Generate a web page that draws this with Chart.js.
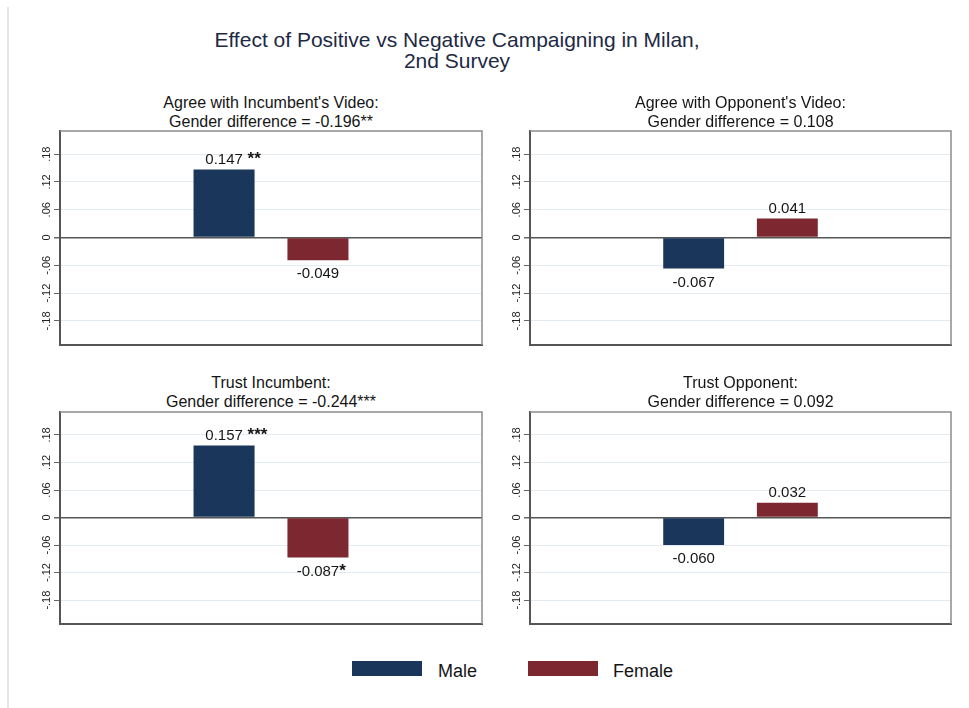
<!DOCTYPE html>
<html>
<head>
<meta charset="utf-8">
<script src="https://cdn.jsdelivr.net/npm/chart.js@4.4.1/dist/chart.umd.min.js"></script>
<style>
  body { margin: 0; background: #fff; font-family: "Liberation Sans", Arial, Helvetica, sans-serif; }
  #page { position: relative; width: 969px; height: 708px; overflow: hidden; }
  #frame { position: absolute; left: 7px; top: 7px; height: 701px; border-left: 2px solid #e6e6e6; }
  #mainTitle { position: absolute; left: 0; top: 29px; width: 914px; text-align: center;
               font-size: 21px; line-height: 21px; color: #1e2944; }
  .ptitle { position: absolute; text-align: center; font-size: 16px; line-height: 18.5px; color: #151515; }
  canvas { position: absolute; }
  .lbox { position: absolute; width: 70px; height: 15px; top: 661px; }
  .ltext { position: absolute; top: 661px; font-size: 18px; line-height: 20px; color: #151515; }
</style>
</head>
<body>
<div id="page">
  <div id="frame"></div>
  <div id="mainTitle">Effect of Positive vs Negative Campaigning in Milan,<br>2nd Survey</div>
</div>
<script>
// valores
const seriesNames = ['Male', 'Female'];
const panelTitles = [
    ["Agree with Incumbent's Video:", "Gender difference = -0.196**"],
    ["Agree with Opponent's Video:", "Gender difference = 0.108"],
    ["Trust Incumbent:", "Gender difference = -0.244***"],
    ["Trust Opponent:", "Gender difference = 0.092"]
];
const maleValues = [0.147, -0.067, 0.157, -0.060];
const femaleValues = [-0.049, 0.041, -0.087, 0.032];
const maleStars = [' **', '', ' ***', ''];
const femaleStars = ['', '', '*', ''];
const tickValues = [-0.18, -0.12, -0.06, 0, 0.06, 0.12, 0.18];

const colors = ['#1a365b', '#7d2831'];
// areas de dibujo: left, top, right, bottom
const areas = [
    [60, 131, 482, 345],
    [530, 131, 951, 345],
    [60, 412, 482, 624],
    [530, 412, 951, 624]
];
const titleTops = [94, 94, 374, 374];
const font = '"Liberation Sans", Arial, Helvetica, sans-serif';

const page = document.getElementById('page');

const barLabels = {
    id: 'barLabels',
    afterDatasetsDraw(chart) {
        const ctx = chart.ctx;
        const idx = chart.options.plugins.barLabels.panel;
        const stars = [maleStars[idx], femaleStars[idx]];
        ctx.save();
        ctx.fillStyle = '#151515';
        ctx.textBaseline = 'middle';
        chart.data.datasets.forEach(function (ds, i) {
            const el = chart.getDatasetMeta(i).data[0];
            const v = ds.data[0];
            const txt = v.toFixed(3);
            const y = v >= 0 ? el.y - 10 : el.y + 14;
            ctx.font = '15px ' + font;
            ctx.textAlign = 'center';
            ctx.fillText(txt, el.x, y);
            if (stars[i]) {
                const w = ctx.measureText(txt).width;
                ctx.font = 'bold 17px ' + font;
                ctx.textAlign = 'left';
                ctx.fillText(stars[i], el.x + w / 2, y);
            }
        });
        ctx.restore();
    }
};

const frameLines = {
    id: 'frameLines',
    afterDraw(chart) {
        const a = chart.chartArea;
        const ctx = chart.ctx;
        ctx.save();
        ctx.strokeStyle = '#8c8c8c';
        ctx.lineWidth = 1.5;
        ctx.beginPath();
        ctx.moveTo(a.left, a.top);
        ctx.lineTo(a.right, a.top);
        ctx.lineTo(a.right, a.bottom);
        ctx.stroke();
        ctx.restore();
    }
};

areas.forEach(function (a, idx) {
    const [l, t, r, b] = a;
    const t1 = document.createElement('div');
    t1.className = 'ptitle';
    t1.style.left = (l - 60) + 'px';
    t1.style.width = (r - l + 120) + 'px';
    t1.style.top = titleTops[idx] + 'px';
    t1.innerHTML = panelTitles[idx][0] + '<br>' + panelTitles[idx][1];
    page.appendChild(t1);

    const canvas = document.createElement('canvas');
    const cw = r - l + 48, ch = b - t + 20;
    canvas.width = cw;
    canvas.height = ch;
    canvas.style.left = (l - 40) + 'px';
    canvas.style.top = (t - 10) + 'px';
    canvas.style.width = cw + 'px';
    canvas.style.height = ch + 'px';
    page.appendChild(canvas);

    new Chart(canvas.getContext('2d'), {
        type: 'bar',
        data: {
            labels: [''],
            datasets: [
                { label: seriesNames[0], data: [maleValues[idx]], backgroundColor: colors[0] },
                { label: seriesNames[1], data: [femaleValues[idx]], backgroundColor: colors[1] }
            ]
        },
        options: {
            responsive: false,
            animation: false,
            layout: { padding: { top: 10, bottom: 10, left: 0, right: 8 } },
            categoryPercentage: 0.445,
            barPercentage: 0.65,
            plugins: {
                legend: { display: false },
                tooltip: { enabled: false },
                barLabels: { panel: idx }
            },
            scales: {
                x: {
                    grid: { display: false, drawTicks: false },
                    ticks: { display: false },
                    border: { display: true, color: '#555', width: 2 },
                    afterFit: function (s) { s.height = 0; }
                },
                y: {
                    min: -0.232,
                    max: 0.23,
                    afterBuildTicks: function (s) {
                        s.ticks = tickValues.map(function (v) { return { value: v }; });
                    },
                    afterFit: function (s) { s.width = 40; },
                    grid: {
                        color: function (c) { return c.tick && c.tick.value === 0 ? '#555' : '#e5ecf1'; },
                        lineWidth: function (c) { return c.tick && c.tick.value === 0 ? 1.5 : 1; },
                        tickColor: '#666',
                        tickLength: 6
                    },
                    border: { display: true, color: '#555', width: 2 },
                    ticks: {
                        minRotation: 90,
                        maxRotation: 90,
                        crossAlign: 'center',
                        padding: -2,
                        color: '#222',
                        font: { family: font, size: 11 },
                        callback: function (v) {
                            if (v === 0) return '0';
                            return (v < 0 ? '-' : '') + Math.abs(v).toFixed(2).replace(/^0/, '');
                        }
                    }
                }
            }
        },
        plugins: [barLabels, frameLines]
    });
});

// leyenda
const legendX = [[352, 438], [528, 613]];
seriesNames.forEach(function (name, i) {
    const box = document.createElement('div');
    box.className = 'lbox';
    box.style.left = legendX[i][0] + 'px';
    box.style.background = colors[i];
    page.appendChild(box);
    const txt = document.createElement('div');
    txt.className = 'ltext';
    txt.style.left = legendX[i][1] + 'px';
    txt.textContent = name;
    page.appendChild(txt);
});
</script>
</body>
</html>
